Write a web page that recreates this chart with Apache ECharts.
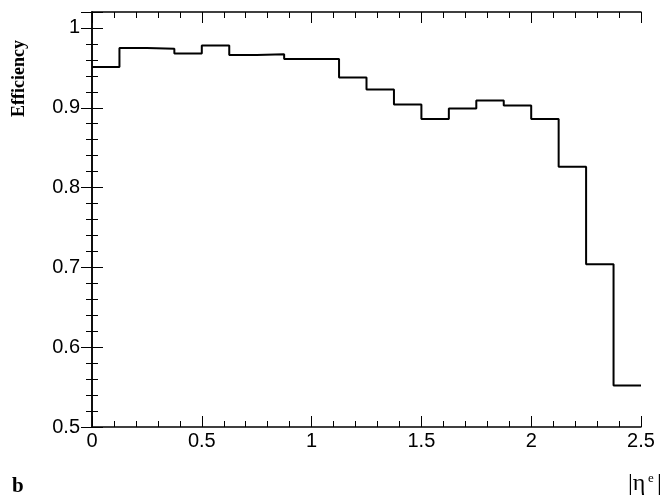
<!DOCTYPE html><html><head><script src="https://cdn.jsdelivr.net/npm/echarts@6/dist/echarts.min.js"></script></head><body style="margin:0;background:#fff"><div id="c" style="width:671px;height:498px"></div><script>
const binEdges=[0,0.125,0.25,0.375,0.5,0.625,0.75,0.875,1,1.125,1.25,1.375,1.5,1.625,1.75,1.875,2,2.125,2.25,2.375,2.5];
const efficiency=[0.951,0.975,0.974,0.968,0.978,0.966,0.967,0.961,0.961,0.938,0.923,0.904,0.886,0.899,0.909,0.903,0.886,0.826,0.704,0.552];
const pts=[];efficiency.forEach((v,i)=>{pts.push([binEdges[i],v]);pts.push([binEdges[i+1],v]);});
const ax=(show,pos)=>({type:'value',position:pos,axisLine:{show:true,lineStyle:{color:'#000',width:1.5}},splitLine:{show:false},axisTick:{show:true,inside:true,length:11,lineStyle:{color:'#000'}},minorTick:{show:true,splitNumber:5,length:6,lineStyle:{color:'#000'}},axisLabel:{show:show,color:'#000',fontSize:20,fontFamily:'Liberation Sans',margin:4}});
const c=echarts.init(document.getElementById('c'));
c.setOption({animation:false,grid:{left:92,right:30,top:12,bottom:71},
xAxis:[Object.assign(ax(true,'bottom'),{min:0,max:2.5,interval:0.5}),Object.assign(ax(false,'top'),{min:0,max:2.5,interval:0.5})],
yAxis:[Object.assign(ax(true,'left'),{min:0.5,max:1.02,interval:0.1,axisLabel:{color:'#000',fontSize:20,fontFamily:'Liberation Sans',margin:12,formatter:v=>v>1.01?'':String(+v.toFixed(1))}}),Object.assign(ax(false,'right'),{min:0.5,max:1.02,interval:0.1})],
series:[{type:'line',data:pts,symbol:'none',lineStyle:{color:'#000',width:2}}],
graphic:[{type:'text',x:10,y:117,rotation:Math.PI/2,style:{text:'Efficiency',font:'bold 18px Liberation Serif',fill:'#000'}},
{type:'text',left:12,top:476,style:{text:'b',font:'bold 21px Liberation Serif',fill:'#000'}},
{type:'text',left:628,top:472,style:{text:'|η',font:'24px Liberation Serif',fill:'#000'}},
{type:'text',left:648,top:472,style:{text:'e',font:'13px Liberation Serif',fill:'#000'}},
{type:'text',left:657,top:472,style:{text:'|',font:'24px Liberation Serif',fill:'#000'}}]});
</script></body></html>
